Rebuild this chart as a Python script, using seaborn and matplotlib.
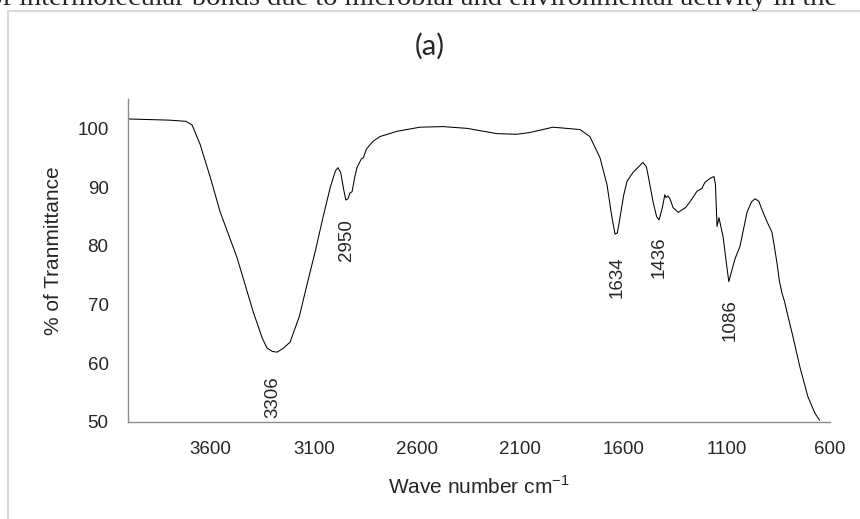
import matplotlib
matplotlib.use("Agg")
import matplotlib.pyplot as plt
import matplotlib.patches as patches
import seaborn as sns
import pandas as pd

# FTIR spectrum
wavenumber = [4000, 3900, 3800, 3720, 3690, 3651, 3600, 3554, 3472, 3394, 3350, 3327,
              3300, 3278, 3250, 3215, 3170, 3133, 3090, 3056, 3020, 2995, 2983, 2970,
              2955, 2945, 2935, 2925, 2915, 2900, 2891, 2870, 2860, 2845, 2813, 2780,
              2697, 2586, 2474, 2358, 2213, 2116, 2053, 1942, 1811, 1763, 1714, 1680,
              1656, 1641, 1630, 1617, 1600, 1583, 1554, 1506, 1490, 1482, 1457, 1440,
              1428, 1412, 1400, 1394, 1385, 1375, 1360, 1335, 1300, 1278, 1244, 1220,
              1206, 1180, 1162, 1155, 1147, 1138, 1118, 1100, 1090, 1078, 1060, 1036,
              1002, 980, 963, 945, 930, 905, 881, 870, 857, 845, 833, 820, 809, 784,
              746, 707, 673, 658, 650]
transmittance = [101.6, 101.5, 101.4, 101.2, 100.6, 97.3, 91.5, 85.8, 78.0, 68.8, 64.3, 62.6,
                 62.0, 61.9, 62.5, 63.6, 68.0, 73.4, 79.5, 84.8, 90.0, 92.8, 93.3, 92.5,
                 89.5, 87.8, 88.0, 89.0, 89.2, 92.0, 93.3, 94.8, 95.0, 96.5, 97.8, 98.6,
                 99.5, 100.2, 100.3, 100.0, 99.1, 99.0, 99.3, 100.2, 99.8, 98.6, 95.0, 90.4,
                 84.8, 82.0, 82.2, 84.8, 88.5, 91.0, 92.5, 94.2, 93.5, 92.2, 87.5, 85.0,
                 84.4, 86.5, 88.7, 88.2, 88.5, 88.0, 86.5, 85.7, 86.5, 87.5, 89.3, 89.8,
                 90.8, 91.5, 91.8, 90.5, 83.3, 84.8, 81.6, 76.5, 73.9, 75.5, 77.8, 79.9,
                 85.7, 87.5, 88.0, 87.6, 86.2, 84.1, 82.3, 80.0, 77.1, 74.0, 72.0, 70.5,
                 68.8, 65.2, 59.4, 54.3, 51.5, 50.7, 50.3]

peak_labels = ["3306", "2950", "1634", "1436", "1086"]
peak_x = [3298, 2940, 1632, 1428, 1085]
peak_y = [54.3, 81.0, 74.7, 78.0, 67.4]

df = pd.DataFrame({"wn": wavenumber, "T": transmittance})

sns.set_style("white")
plt.rcParams["font.family"] = ["Liberation Sans", "DejaVu Sans"]

fig = plt.figure(figsize=(8.6, 5.19), dpi=100)
ax = fig.add_axes([128 / 860, 1 - 422 / 519, 702 / 860, 323 / 519])

sns.lineplot(data=df, x="wn", y="T", ax=ax, color="black", linewidth=0.75,
             estimator=None, sort=False)

ax.set_xlim(4000, 600)
ax.set_ylim(50, 105)
ax.set_xticks([3600, 3100, 2600, 2100, 1600, 1100, 600])
ax.set_yticks([50, 60, 70, 80, 90, 100])
ax.tick_params(axis="both", length=0, labelsize=13.5, pad=14)

for s in ["top", "right"]:
    ax.spines[s].set_visible(False)
for s in ["left", "bottom"]:
    ax.spines[s].set_color("#8c8c8c")
    ax.spines[s].set_linewidth(1.0)

ax.set_xlabel("Wave number cm$^{\\mathregular{-1}}$", fontsize=15)
ax.set_ylabel("% of Tranmittance", fontsize=15)
ax.xaxis.set_label_coords(0.5, -0.165)
ax.yaxis.set_label_coords(-0.093, 0.53)

for lab, px, py in zip(peak_labels, peak_x, peak_y):
    ax.text(px, py, lab, rotation=90, ha="center", va="center", fontsize=13.5)

fig.text(430 / 860, 1 - 46 / 519, "(a)", ha="center", va="center",
         fontsize=21, family=["Lato", "DejaVu Sans"])

# cut-off caption line from the page above and the page frame
fig.text(-12 / 860, 1 - 5 / 519, "of intermolecular bonds due to microbial and environmental activity in the",
         ha="left", va="baseline", fontsize=20.5, family=["Liberation Serif", "DejaVu Serif"])
fig.add_artist(patches.Rectangle((8 / 860, -0.1), 1.2, 1.1 - 11 / 519,
                                 transform=fig.transFigure, fill=False,
                                 edgecolor="#d9d9d9", linewidth=1.5))

fig.savefig("out.png", dpi=100)
